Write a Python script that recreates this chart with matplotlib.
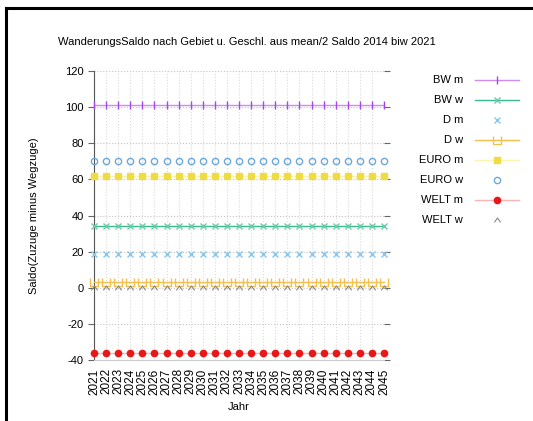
import numpy as np
import matplotlib
matplotlib.use("Agg")
from matplotlib import pyplot as plt
from matplotlib.path import Path
from matplotlib.lines import Line2D

plt.rcParams['font.family'] = ['Liberation Sans', 'DejaVu Sans']
plt.rcParams['axes.unicode_minus'] = False

# data
years = list(range(2021, 2046))
bw_m = [101, 101, 101, 101, 101, 101, 101, 101, 101, 101, 101, 101, 101,
        101, 101, 101, 101, 101, 101, 101, 101, 101, 101, 101, 101]
bw_w = [34, 34, 34, 34, 34, 34, 34, 34, 34, 34, 34, 34, 34,
        34, 34, 34, 34, 34, 34, 34, 34, 34, 34, 34, 34]
d_m = [18.5, 18.5, 18.5, 18.5, 18.5, 18.5, 18.5, 18.5, 18.5, 18.5, 18.5, 18.5, 18.5,
       18.5, 18.5, 18.5, 18.5, 18.5, 18.5, 18.5, 18.5, 18.5, 18.5, 18.5, 18.5]
d_w = [3, 3, 3, 3, 3, 3, 3, 3, 3, 3, 3, 3, 3,
       3, 3, 3, 3, 3, 3, 3, 3, 3, 3, 3, 3]
euro_m = [62, 62, 62, 62, 62, 62, 62, 62, 62, 62, 62, 62, 62,
          62, 62, 62, 62, 62, 62, 62, 62, 62, 62, 62, 62]
euro_w = [70, 70, 70, 70, 70, 70, 70, 70, 70, 70, 70, 70, 70,
          70, 70, 70, 70, 70, 70, 70, 70, 70, 70, 70, 70]
welt_m = [-36, -36, -36, -36, -36, -36, -36, -36, -36, -36, -36, -36, -36,
          -36, -36, -36, -36, -36, -36, -36, -36, -36, -36, -36, -36]
welt_w = [0, 0, 0, 0, 0, 0, 0, 0, 0, 0, 0, 0, 0,
          0, 0, 0, 0, 0, 0, 0, 0, 0, 0, 0, 0]

labels = ["BW m", "BW w", "D m", "D w", "EURO m", "EURO w", "WELT m", "WELT w"]
series = [bw_m, bw_w, d_m, d_w, euro_m, euro_w, welt_m, welt_w]

# custom markers (gnuplot look)
caret = Path([(-1, -0.6), (0, 0.8), (1, -0.6)], [Path.MOVETO, Path.LINETO, Path.LINETO])
cup = Path([(-1, 1), (-1, -1), (1, -1), (1, 1)],
           [Path.MOVETO, Path.LINETO, Path.LINETO, Path.LINETO])

styles = [
    dict(color='#cc8cf2', marker='|', ms=6, mec='#a448ea', lw=1.0, ls='-'),
    dict(color='#3cbc8e', marker='x', ms=4, mec='#6ccaa6', lw=1.0, ls='-'),
    dict(color='#86c8f0', marker='x', ms=4, mec='#86c8f0', lw=0, ls='none'),
    dict(color='#f2c050', marker=cup, ms=5.5, mec='#f2c050', mfc='none', lw=1.0, ls='-'),
    dict(color='#fbf3b0', marker='s', ms=4.5, mec='#efdc44', mfc='#efdc44', lw=1.0, ls='-'),
    dict(color='#6ea8d8', marker='o', ms=4.5, mec='#6ea8d8', mfc='none', mew=1.0, lw=0, ls='none'),
    dict(color='#f9b4b4', marker='o', ms=4.5, mec='#e81818', mfc='#e81818', lw=1.0, ls='-'),
    dict(color='#888888', marker=caret, ms=4.5, mec='#888888', mfc='none', mew=0.8, lw=0, ls='none'),
]

fig = plt.figure(figsize=(5.33, 4.21), dpi=100)
ax = fig.add_axes([94/533, 1-360/421, (384-94)/533, (360-71)/421])

for vals, st in zip(series, styles):
    ax.plot(years, vals, clip_on=False, zorder=3, **st)

ax.set_xlim(2021, 2045)
ax.set_ylim(-40, 120)
ax.set_yticks(np.arange(-40, 121, 20))
ax.set_xticks(years)
ax.set_xticklabels([str(y) for y in years], rotation=90, fontsize=8.5)
ax.tick_params(axis='y', labelsize=8, length=4, color='#666666', right=True, direction='out')
ax.tick_params(axis='x', length=0, pad=6)
ax.grid(True, axis='y', ls=':', color='#c4c4c4', lw=0.8)
ax.grid(True, axis='x', ls=':', color='#dadada', lw=0.8)
ax.set_axisbelow(True)
for s in ['top', 'right']:
    ax.spines[s].set_visible(False)
ax.spines['left'].set_color('#555555')
ax.spines['bottom'].set_color('#cccccc')

ax.set_xlabel("Jahr", fontsize=8, labelpad=5)
ax.set_ylabel("Saldo(Zuzuge minus Wegzuge)", fontsize=8, labelpad=19)
fig.text(58/533, 1-42/421, "WanderungsSaldo nach Gebiet u. Geschl. aus mean/2 Saldo 2014 biw 2021",
         fontsize=8, va='center', ha='left')

# legend on the right, gnuplot style (labels right aligned)
lax = fig.add_axes([0, 0, 1, 1], facecolor='none')
lax.set_xlim(0, 533)
lax.set_ylim(421, 0)
lax.axis('off')
for i, (lab, st) in enumerate(zip(labels, styles)):
    yy = 80 + i*20
    lax.text(463, yy, lab, ha='right', va='center', fontsize=8)
    lax.plot([475, 519], [yy, yy], color=st['color'], lw=st['lw'], ls=st['ls'])
    mst = {k: v for k, v in st.items() if k not in ('lw', 'ls', 'color')}
    lax.plot([497], [yy], ls='none', color=st['color'], **mst)

# frame
fig.add_artist(Line2D([6/533, 1], [1-8/421, 1-8/421], color='black', lw=2.2))
fig.add_artist(Line2D([6/533, 6/533], [0, 1-8/421], color='black', lw=2.2))

fig.savefig("out.png", dpi=100)
